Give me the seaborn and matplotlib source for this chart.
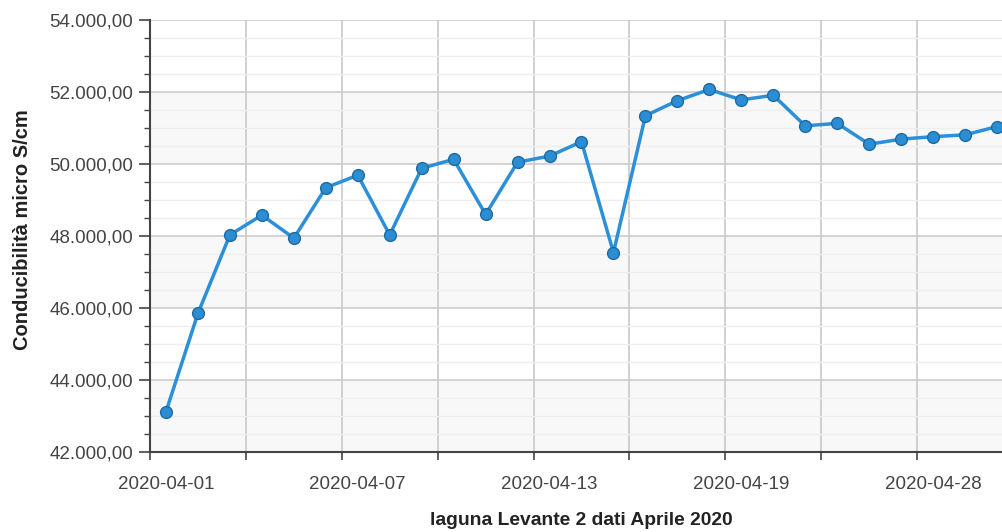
import matplotlib
matplotlib.use("Agg")
import matplotlib.pyplot as plt
from matplotlib.ticker import MultipleLocator, FixedLocator, FuncFormatter
import seaborn as sns
import pandas as pd
import numpy as np

# dates present in the series (a few days after 04-19 are missing)
dates = ['2020-04-01', '2020-04-02', '2020-04-03', '2020-04-04', '2020-04-05',
         '2020-04-06', '2020-04-07', '2020-04-08', '2020-04-09', '2020-04-10',
         '2020-04-11', '2020-04-12', '2020-04-13', '2020-04-14', '2020-04-15',
         '2020-04-16', '2020-04-17', '2020-04-18', '2020-04-19', '2020-04-20',
         '2020-04-21', '2020-04-22', '2020-04-23', '2020-04-24', '2020-04-28',
         '2020-04-29', '2020-04-30']
conducibilita = [43120, 45850, 48030, 48580, 47940, 49340, 49690, 48030, 49880,
                 50130, 48600, 50050, 50220, 50620, 47540, 51340, 51760, 52070,
                 51780, 51910, 51060, 51130, 50550, 50690, 50760, 50810, 51040]
label_dates = ['2020-04-01', '2020-04-07', '2020-04-13', '2020-04-19', '2020-04-28']

df = pd.DataFrame({'data': dates, 'valore': conducibilita})
df['pos'] = np.arange(len(df))

sns.set_style('white')
plt.rcParams['font.family'] = ['Liberation Sans', 'DejaVu Sans']

fig = plt.figure(figsize=(10.03, 5.32), dpi=100)
ax = fig.add_axes([150 / 1003, 80 / 532, 863 / 1003, 432 / 532])

# alternating background bands
for lo in [42000, 46000, 50000]:
    ax.axhspan(lo, lo + 2000, color='#f8f8f8', zorder=0, lw=0)

sns.lineplot(data=df, x='pos', y='valore', ax=ax, color='#2b90d9', lw=2.5,
             marker='o', markersize=8.5, markerfacecolor='#2b8ed4',
             markeredgecolor='#1d6aa0', markeredgewidth=1.0, zorder=5)

ax.set_xlim(-0.5, len(dates) - 0.5)
ax.set_ylim(42000, 54000)

# y axis
ax.yaxis.set_major_locator(MultipleLocator(2000))
ax.yaxis.set_minor_locator(MultipleLocator(500))
ax.yaxis.set_major_formatter(FuncFormatter(
    lambda v, p: '{:,.2f}'.format(v).replace(',', 'X').replace('.', ',').replace('X', '.')))
ax.grid(axis='y', which='major', color='#cccccc', lw=1.2, zorder=1)
ax.grid(axis='y', which='minor', color='#eeeeee', lw=1.0, zorder=1)

# x axis: grid/ticks between groups of three days, labels on selected dates
grid_pos = np.arange(-0.5, len(dates), 3)
ax.xaxis.set_major_locator(FixedLocator(grid_pos))
ax.xaxis.set_major_formatter(FuncFormatter(lambda v, p: ''))
lab_pos = [dates.index(d) for d in label_dates]
ax.set_xticks(lab_pos, minor=True)
ax.set_xticklabels(label_dates, minor=True)
ax.grid(axis='x', which='major', color='#c8c8c8', lw=1.2, zorder=1)

ax.tick_params(axis='y', which='major', length=8, width=1.2, color='#444444',
               labelsize=13.5, labelcolor='#444444', left=True, pad=4)
ax.tick_params(axis='y', which='minor', length=4, width=1.0, color='#444444', left=True)
ax.tick_params(axis='x', which='major', length=6, width=1.2, color='#444444', bottom=True)
ax.tick_params(axis='x', which='minor', length=0, labelsize=13.5,
               labelcolor='#444444', pad=17)

for s in ['top', 'right']:
    ax.spines[s].set_visible(False)
ax.spines['left'].set_color('#444444')
ax.spines['bottom'].set_color('#444444')
ax.spines['left'].set_linewidth(1.5)
ax.spines['bottom'].set_linewidth(1.5)

ax.set_ylabel('Conducibilità micro S/cm', fontsize=14.5, fontweight='bold',
              color='#222222')
ax.yaxis.set_label_coords(-0.137, 0.515)
ax.set_xlabel('laguna Levante 2 dati Aprile 2020', fontsize=13.9, fontweight='bold',
              color='#222222', labelpad=14)

fig.savefig('out.png', dpi=100)
